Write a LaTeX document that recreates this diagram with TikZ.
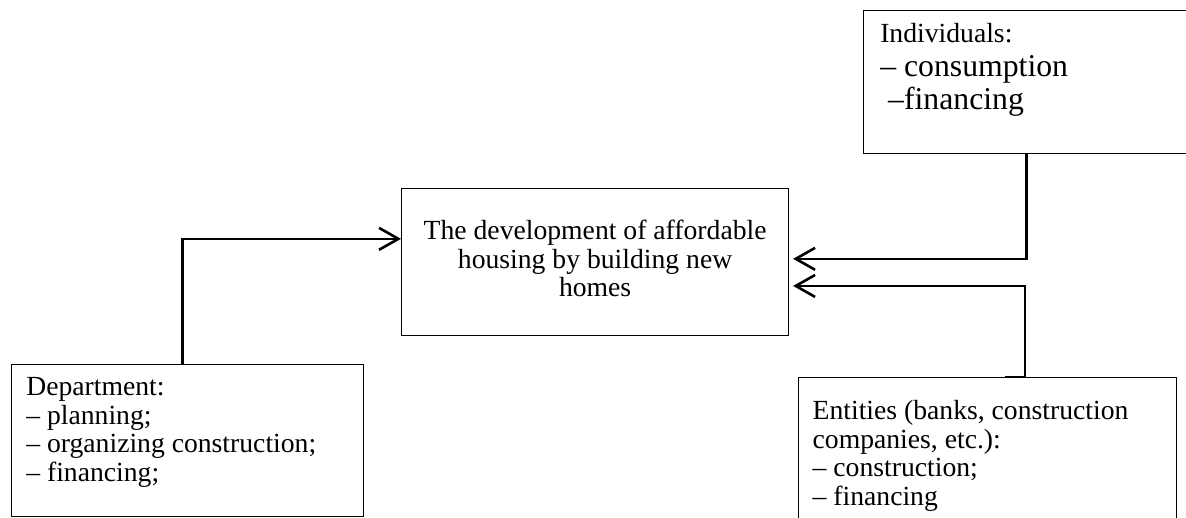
\documentclass[tikz,border=0pt]{standalone}
\usepackage{fontspec}
\setmainfont{Liberation Serif}
\usetikzlibrary{positioning, arrows.meta, calc}

\tikzset{
	box/.style={rectangle, draw, line width=0.5pt, anchor=north west, inner sep=0pt},
	boxtext/.style={anchor=north west, align=left, inner sep=0pt, font=\fontsize{12.2}{12.6}\selectfont},
	link/.style={line width=1.15pt, -{Straight Barb[length=0.3cm, width=0.34cm, line width=1.15pt]}}
}

\begin{document}
\begin{tikzpicture}
		
		\useasboundingbox (0,0) rectangle (18.383,8.029);
		
		%Boxes
		\node (individuals) at (13.377,7.874) [box, minimum width=5.1cm, minimum height=2.217cm]{};
		\node (centre) at (6.216,5.115) [box, minimum width=5.999cm, minimum height=2.279cm]{};
		\node (department) at (0.171,2.387) [box, minimum width=5.456cm, minimum height=2.356cm]{};
		\node (entities) at (12.369,2.186) [box, minimum width=5.859cm, minimum height=2.5cm]{};
		
		%Texts
		\node (individualstext) at ([shift={(0.26,-0.2)}]individuals.north west) [boxtext, font=\fontsize{12.2}{14.8}\selectfont]
		{Individuals:\\ {\fontsize{14}{16}\selectfont -- consumption}\\ {\fontsize{14}{16}\selectfont\ --financing}};
		
		\node (centretext) at ([yshift=-0.49cm]centre.north) [boxtext, anchor=north, align=center]
		{The development of affordable\\ housing by building new\\ homes};
		
		\node (departmenttext) at ([shift={(0.23,-0.2)}]department.north west) [boxtext]
		{Department:\\ -- planning;\\ -- organizing construction;\\ -- financing;};
		
		\node (entitiestext) at ([shift={(0.22,-0.36)}]entities.north west) [boxtext]
		{Entities (banks, construction\\ companies, etc.):\\ -- construction;\\ -- financing};
		
		\coordinate (entstub) at ([xshift=3.21cm]entities.north west);
		
		%Links
		\draw[link] ([xshift=-0.08cm]department.north) |- ([yshift=0.36cm]centre.west);
		\draw[link] ([xshift=2.53cm]individuals.south west) |- ([xshift=0.06cm,yshift=0.05cm]centre.east);
		\draw[link] (entstub) -- ++(0.31,0) |- ([xshift=0.06cm,yshift=-0.37cm]centre.east);
		
\end{tikzpicture}
\end{document}
